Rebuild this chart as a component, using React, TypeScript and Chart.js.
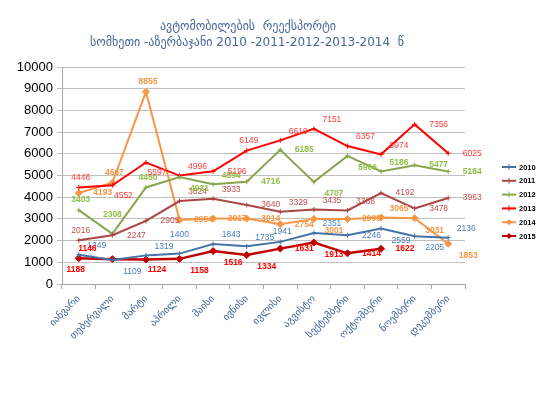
import React, { useEffect, useRef } from "react";
import { Chart, registerables } from "chart.js";

Chart.register(...registerables);

const titleLines = ["ავტომობილების  რეექსპორტი", "სომხეთი -აზერბაჯანი 2010 -2011-2012-2013-2014  წ"];

const months = [
  "იანვარი", "თებერვალი", "მარტი", "აპრილი", "მაისი", "ივნისი",
  "ივლისი", "აგვისტო", "სექტემბერი", "ოქტომბერი", "ნოემბერი", "დეკემბერი",
];

const seriesNames = ["2010", "2011", "2012", "2013", "2014", "2015"];

const values2010 = [1349, 1109, 1319, 1400, 1843, 1735, 1941, 2351, 2246, 2559, 2205, 2136];
const values2011 = [2016, 2247, 2905, 3824, 3933, 3640, 3329, 3435, 3388, 4192, 3478, 3963];
const values2012 = [3403, 2308, 4450, 4931, 4594, 4716, 6185, 4707, 5906, 5186, 5477, 5184];
const values2013 = [4446, 4552, 5597, 4996, 5196, 6149, 6619, 7151, 6357, 5974, 7356, 6025];
const values2014 = [4193, 4667, 8855, 2954, 3017, 3014, 2754, 3001, 2990, 3065, 3031, 1853];
const values2015 = [1188, 1146, 1124, 1158, 1516, 1334, 1631, 1913, 1414, 1622];

const yTicks = [0, 1000, 2000, 3000, 4000, 5000, 6000, 7000, 8000, 9000, 10000];

// label placement codes per point
const pos2010 = ["tr", "br", "tr", "tt", "tr", "tr", "t", "tr", "r", "br", "br", "tr"];
const pos2011 = ["t", "r", "r", "tr", "tr", "r", "tr", "tr", "tr", "r", "r", "r"];
const pos2012 = ["t", "tt", "t", "br", "tr", "r", "r", "br", "br", "tr", "r", "r"];
const pos2013 = ["t", "bs", "bs", "tr", "r", "t", "tr", "tr", "tr", "tr", "r", "r"];
const pos2014 = ["r", "t", "t", "r", "r", "r", "r", "br", "r", "tr", "br", "br"];
const pos2015 = ["b", "tl", "bs", "br", "br", "br", "r", "br", "r", "r"];

const OFFS: Record<string, [number, number]> = {
  t: [2, -10],
  tt: [0, -19],
  b: [-3, 11],
  bs: [11, 10],
  r: [24, 0],
  tr: [18, -9],
  br: [20, 12],
  tl: [-25, -10],
};

const lineColors = ["#4572A7", "#AA4643", "#89A54E", "#FF0000", "#F79646", "#C00000"];
const labelColors = ["#4A7EBB", "#C0504D", "#92C047", "#FF3B3B", "#F79646", "#FF0000"];
const labelBold = [false, false, true, false, true, true];
const pointStyles = ["cross", "cross", "cross", "cross", "rectRot", "rectRot"];

const allValues = [values2010, values2011, values2012, values2013, values2014, values2015];
const allPos = [pos2010, pos2011, pos2012, pos2013, pos2014, pos2015];

const titlePlugin = {
  id: "customTitle",
  afterDraw(chart: any) {
    const ctx = chart.ctx;
    ctx.save();
    ctx.fillStyle = "#4A679B";
    ctx.font = "12px 'DejaVu Sans', sans-serif";
    ctx.textAlign = "center";
    ctx.textBaseline = "middle";
    ctx.fillText(titleLines[0], 248, 27);
    ctx.fillText(titleLines[1], 247, 43);
    ctx.restore();
  },
};

const labelPlugin = {
  id: "pointLabels",
  afterDatasetsDraw(chart: any) {
    const ctx = chart.ctx;
    ctx.save();
    ctx.textAlign = "center";
    ctx.textBaseline = "middle";
    chart.data.datasets.forEach((ds: any, di: number) => {
      const meta = chart.getDatasetMeta(di);
      const posArr = allPos[di];
      ctx.fillStyle = labelColors[di];
      ctx.font = (labelBold[di] ? "bold " : "") + "8.5px 'Liberation Sans', Arial, sans-serif";
      meta.data.forEach((pt: any, i: number) => {
        const v = ds.data[i];
        if (v == null) return;
        const o = OFFS[posArr[i]] || OFFS.r;
        ctx.fillText(String(v), pt.x + o[0], pt.y + o[1]);
      });
    });
    ctx.restore();
  },
};

const legendPlugin = {
  id: "customLegend",
  afterDraw(chart: any) {
    const ctx = chart.ctx;
    ctx.save();
    const x0 = 502;
    const y0 = 167;
    const step = 13.8;
    seriesNames.forEach((name, i) => {
      const y = y0 + i * step;
      ctx.strokeStyle = lineColors[i];
      ctx.lineWidth = 2;
      ctx.beginPath();
      ctx.moveTo(x0, y);
      ctx.lineTo(x0 + 14, y);
      ctx.stroke();
      const cx = x0 + 7;
      if (pointStyles[i] === "rectRot") {
        ctx.fillStyle = lineColors[i];
        ctx.beginPath();
        ctx.moveTo(cx, y - 3);
        ctx.lineTo(cx + 3, y);
        ctx.lineTo(cx, y + 3);
        ctx.lineTo(cx - 3, y);
        ctx.closePath();
        ctx.fill();
      } else {
        ctx.lineWidth = 1;
        ctx.beginPath();
        ctx.moveTo(cx, y - 3);
        ctx.lineTo(cx, y + 3);
        ctx.stroke();
      }
      ctx.fillStyle = "#000000";
      ctx.font = "bold 7.5px 'Liberation Sans', Arial, sans-serif";
      ctx.textAlign = "left";
      ctx.textBaseline = "middle";
      ctx.fillText(name, x0 + 17, y + 0.5);
    });
    ctx.restore();
  },
};

export default function App() {
  const ref = useRef<HTMLCanvasElement | null>(null);
  useEffect(() => {
    if (!ref.current) return;
    const chart = new Chart(ref.current, {
      type: "line",
      data: {
        labels: months,
        datasets: seriesNames.map((name, i) => ({
          label: name,
          data: allValues[i],
          borderColor: lineColors[i],
          backgroundColor: lineColors[i],
          borderWidth: i === 5 ? 2.5 : 2,
          pointStyle: pointStyles[i] as any,
          pointRadius: pointStyles[i] === "rectRot" ? 3.5 : 2.5,
          pointBorderWidth: 1,
          pointBorderColor: lineColors[i],
          pointBackgroundColor: lineColors[i],
          tension: 0,
          fill: false,
        })),
      },
      options: {
        animation: false,
        responsive: false,
        devicePixelRatio: 1,
        layout: { padding: { left: 8, right: 85, top: 67, bottom: 60 } },
        plugins: {
          legend: { display: false },
          title: { display: false },
          tooltip: { enabled: false },
        },
        scales: {
          x: {
            offset: true,
            grid: {
              offset: true,
              drawOnChartArea: false,
              drawTicks: true,
              tickLength: 5,
              color: "#A6A6A6",
            },
            border: { color: "#A6A6A6" },
            ticks: {
              autoSkip: false,
              maxRotation: 45,
              minRotation: 45,
              color: "#3B5C9A",
              padding: 4,
              font: { family: "'DejaVu Sans', sans-serif", size: 10 },
            },
            afterFit(scale: any) {
              scale.height = 68;
            },
          },
          y: {
            min: 0,
            max: 10000,
            afterBuildTicks(scale: any) {
              scale.ticks = yTicks.map((v) => ({ value: v }));
            },
            grid: { color: "#BFBFBF", tickLength: 5, drawTicks: true },
            border: { color: "#A6A6A6" },
            ticks: {
              color: "#000000",
              padding: 4,
              font: { family: "'Liberation Sans', Arial, sans-serif", size: 13 },
              callback: (v: any) => String(v),
            },
            afterFit(scale: any) {
              scale.width = 54;
            },
          },
        },
      },
      plugins: [titlePlugin, labelPlugin, legendPlugin],
    });
    return () => chart.destroy();
  }, []);
  return (
    <div style={{ position: "fixed", left: 0, top: 0, width: 550, height: 412, background: "#ffffff" }}>
      <canvas ref={ref} width={550} height={412} style={{ width: 550, height: 412 }} />
    </div>
  );
}
